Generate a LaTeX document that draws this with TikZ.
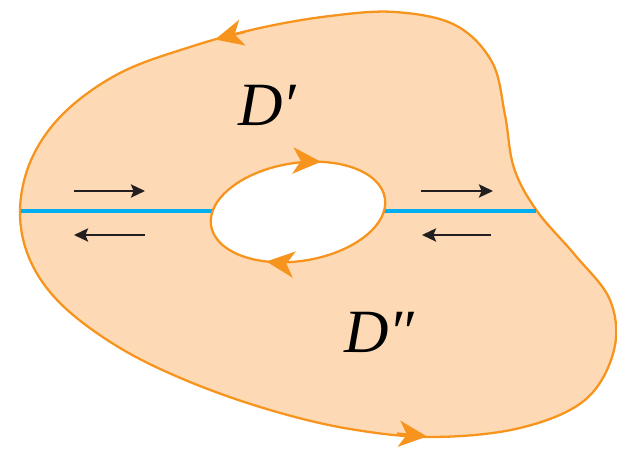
\documentclass[tikz,border=0pt]{standalone}
\usepackage{fontspec}
\setmainfont{Liberation Serif}
\usetikzlibrary{arrows.meta,decorations.markings}
\definecolor{rimorange}{RGB}{247,148,29}
\definecolor{regionfill}{RGB}{253,218,181}
\definecolor{cutblue}{RGB}{0,174,239}
\definecolor{arrowblack}{RGB}{35,31,32}
\tikzset{
  bighead/.tip={Stealth[length=16pt,width=15pt,inset=4.5pt]},
  boundary/.style={draw=rimorange, line width=1.3pt},
  rimarrow/.style={-{bighead}, draw=rimorange, line width=1.3pt},
  cut/.style={draw=cutblue, line width=1.8pt, shorten <=0.7pt, shorten >=0.7pt},
  flow/.style={-{Stealth[length=8pt,width=7.5pt,inset=1.5pt]}, draw=arrowblack, line width=1.2pt},
  regionlabel/.style={font=\fontsize{35}{40}\selectfont\itshape, inner sep=0pt}
}

\begin{document}
\begin{tikzpicture}
  \useasboundingbox (0,0) rectangle (12.34,8.98);

  % outer boundary
  \draw[boundary, fill=regionfill]
    plot[smooth cycle, tension=0.6] coordinates {
      (0.40,4.78) (0.60,3.78) (1.24,2.88) (2.40,2.02) (3.80,1.34)
      (5.40,0.78) (7.00,0.40) (8.66,0.24) (10.40,0.42) (11.70,0.98)
      (12.28,1.98) (12.20,2.98) (11.50,3.88) (10.74,4.76) (10.28,5.62)
      (10.10,6.68) (9.84,7.74) (9.10,8.48) (7.90,8.74) (6.60,8.66)
      (5.20,8.42) (3.80,8.04) (2.40,7.52) (1.30,6.74) (0.64,5.82)};

  % its direction: counterclockwise
  \coordinate (botA) at (7.94,0.31);
  \coordinate (botB) at (8.54,0.25);
  \coordinate (topA) at (4.90,8.34);
  \coordinate (topB) at (4.30,8.19);
  \draw[rimarrow] (botA) -- (botB);
  \draw[rimarrow] (topA) -- (topB);

  \coordinate (hole) at (5.96,4.74);
  \coordinate (cutL) at (0.40,4.76);
  \coordinate (cutR) at (10.74,4.76);

  % cut through the hole
  \draw[cut] (cutL) -- (cutR);

  % inner boundary, run clockwise
  \draw[boundary, fill=white, rotate around={9:(hole)}, postaction={decorate},
    decoration={markings,
      mark=at position 0.18 with {\arrowreversed[rimorange]{bighead}},
      mark=at position 0.66 with {\arrowreversed[rimorange]{bighead}}}]
    (hole) ellipse [x radius=1.76, y radius=0.98];

  % directions along the cut
  \coordinate (lt0) at (1.48,5.16);
  \coordinate (lt1) at (2.90,5.16);
  \coordinate (lb0) at (2.90,4.28);
  \coordinate (lb1) at (1.48,4.28);
  \coordinate (rt0) at (8.42,5.16);
  \coordinate (rt1) at (9.86,5.16);
  \coordinate (rb0) at (9.82,4.28);
  \coordinate (rb1) at (8.44,4.28);

  \draw[flow] (lt0) -- (lt1);
  \draw[flow] (lb0) -- (lb1);
  \draw[flow] (rt0) -- (rt1);
  \draw[flow] (rb0) -- (rb1);

  \node[regionlabel] (Dtop) at (5.34,6.88) {D′};
  \node[regionlabel] (Dbot) at (7.59,2.34) {D″};
\end{tikzpicture}
\end{document}
